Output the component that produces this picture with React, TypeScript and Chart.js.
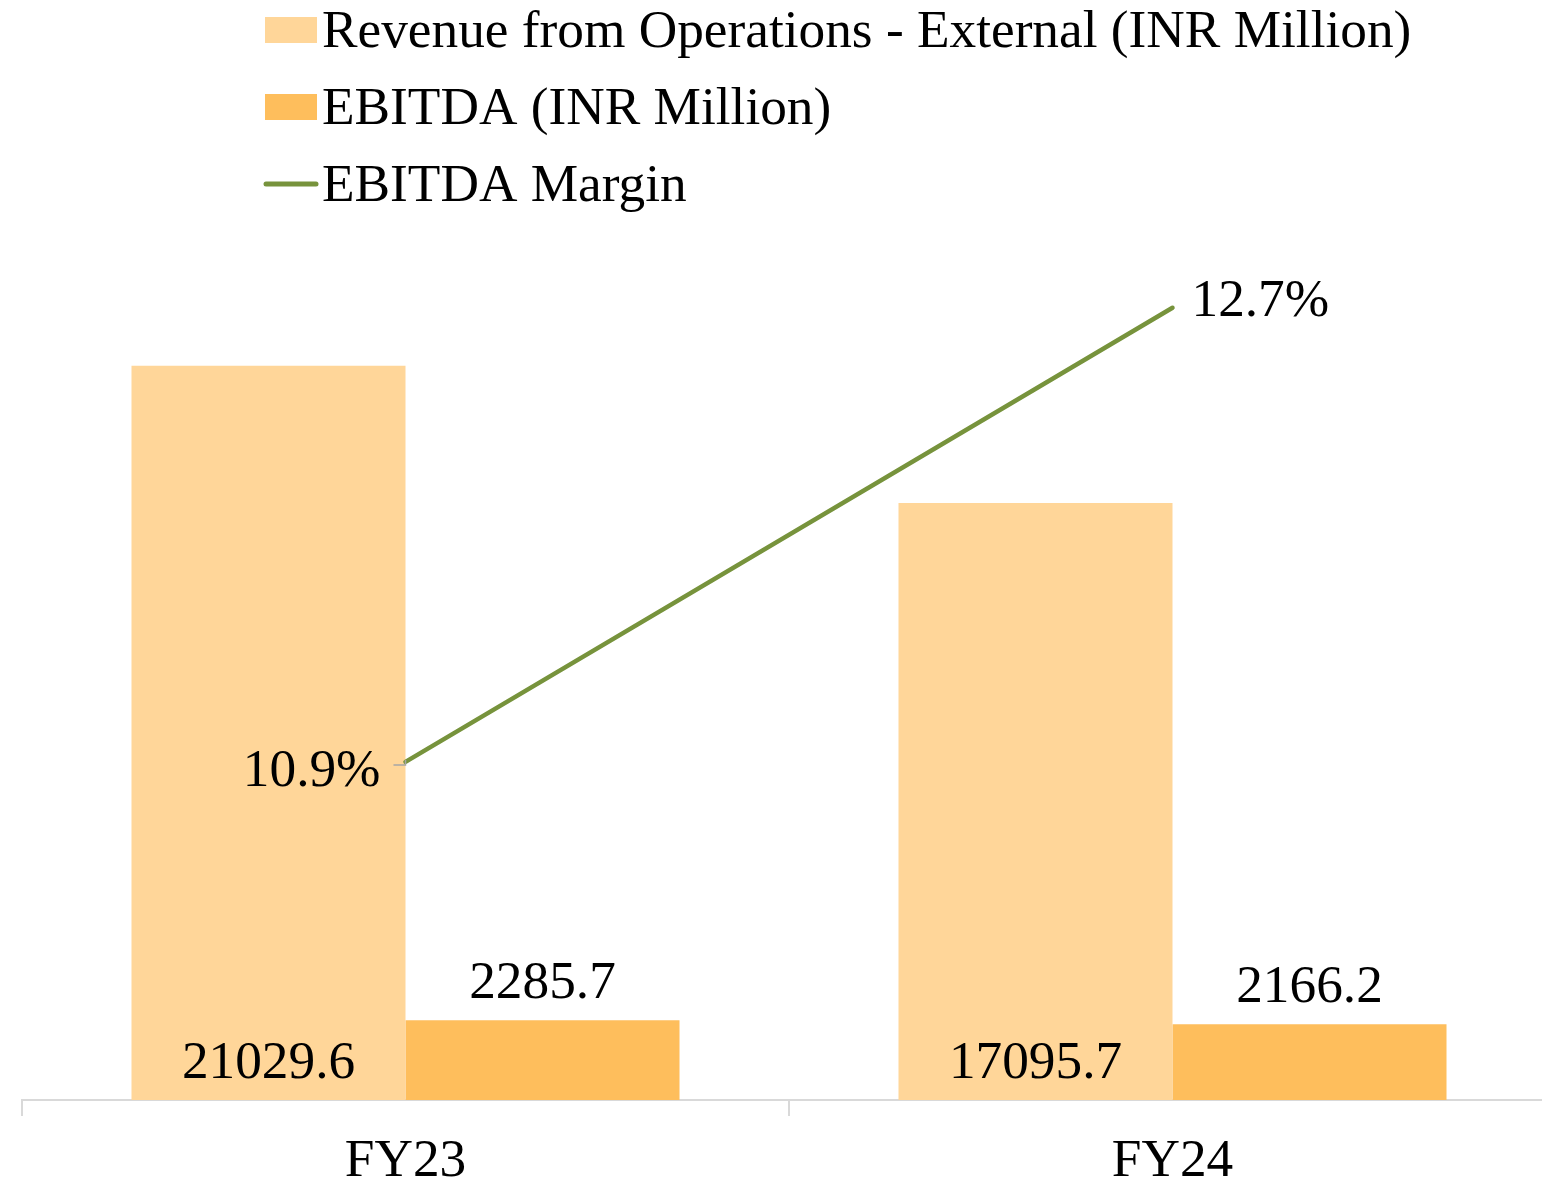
import React, { useEffect, useRef } from "react";
import { Chart, registerables } from "chart.js";

Chart.register(...registerables);

// ---- data ----
const categories = ["FY23", "FY24"];
const revenue = [21029.6, 17095.7];
const ebitda = [2285.7, 2166.2];
const ebitdaMargin = [10.9, 12.7];
const seriesNames = [
  "Revenue from Operations - External (INR Million)",
  "EBITDA (INR Million)",
  "EBITDA Margin",
];

// ---- styles ----
const FONT = '"Liberation Serif", "Times New Roman", serif';
const FS = 53.3;
const C_REV = "#FFD699";
const C_EBITDA = "#FEBE5C";
const C_LINE = "#77933C";
const C_AXIS = "#D9D9D9";
const C_LEADER = "#A6A6A6";

const legendPlugin = {
  id: "customLegend",
  afterDraw(chart: any) {
    const ctx = chart.ctx;
    ctx.save();
    ctx.font = `${FS}px ${FONT}`;
    ctx.textAlign = "left";
    ctx.textBaseline = "alphabetic";
    const x0 = 265;
    const tx = 322;
    const baselines = [47, 124, 201];
    chart.data.datasets.forEach((ds: any, i: number) => {
      const b = baselines[i];
      const cy = b - 17;
      if (ds.type === "line") {
        ctx.strokeStyle = ds.borderColor;
        ctx.lineWidth = 5;
        ctx.lineCap = "round";
        ctx.beginPath();
        ctx.moveTo(x0 + 1, cy);
        ctx.lineTo(x0 + 51, cy);
        ctx.stroke();
      } else {
        ctx.fillStyle = ds.backgroundColor;
        ctx.fillRect(x0, cy - 13, 52, 26);
      }
      ctx.fillStyle = "#000";
      ctx.fillText(ds.label, tx, b);
    });
    ctx.restore();
  },
};

const dataLabelPlugin = {
  id: "dataLabels",
  afterDatasetsDraw(chart: any) {
    const ctx = chart.ctx;
    ctx.save();
    ctx.font = `${FS}px ${FONT}`;
    ctx.fillStyle = "#000";
    ctx.textBaseline = "alphabetic";
    chart.data.datasets.forEach((ds: any, di: number) => {
      const meta = chart.getDatasetMeta(di);
      meta.data.forEach((el: any, i: number) => {
        const v = ds.data[i];
        if (di === 0) {
          ctx.textAlign = "center";
          ctx.fillText(v.toFixed(1), el.x, el.base - 22);
        } else if (di === 1) {
          ctx.textAlign = "center";
          ctx.fillText(v.toFixed(1), el.x, el.y - 22);
        } else {
          const txt = v.toFixed(1) + "%";
          if (i === 0) {
            ctx.strokeStyle = C_LEADER;
            ctx.lineWidth = 1.5;
            ctx.beginPath();
            ctx.moveTo(el.x, el.y - 2);
            ctx.lineTo(el.x, el.y + 3);
            ctx.lineTo(el.x - 12, el.y + 3);
            ctx.stroke();
            ctx.textAlign = "right";
            ctx.fillText(txt, el.x - 25, el.y + 24);
          } else {
            ctx.textAlign = "left";
            ctx.fillText(txt, el.x + 19, el.y + 8);
          }
        }
      });
    });
    ctx.restore();
  },
};

export default function App() {
  const ref = useRef<HTMLCanvasElement | null>(null);

  useEffect(() => {
    document.body.style.margin = "0";
    const canvas = ref.current;
    if (!canvas) return;
    const chart = new Chart(canvas, {
      type: "bar",
      data: {
        labels: categories,
        datasets: [
          {
            type: "bar",
            label: seriesNames[0],
            data: revenue,
            backgroundColor: C_REV,
            borderWidth: 0,
            yAxisID: "y",
            categoryPercentage: 0.7145,
            barPercentage: 1,
            order: 1,
          },
          {
            type: "bar",
            label: seriesNames[1],
            data: ebitda,
            backgroundColor: C_EBITDA,
            borderWidth: 0,
            yAxisID: "y",
            categoryPercentage: 0.7145,
            barPercentage: 1,
            order: 1,
          },
          {
            type: "line",
            label: seriesNames[2],
            data: ebitdaMargin,
            borderColor: C_LINE,
            backgroundColor: C_LINE,
            borderWidth: 4.5,
            borderCapStyle: "round",
            pointRadius: 0,
            tension: 0,
            yAxisID: "y1",
            order: 0,
          },
        ],
      } as any,
      options: {
        responsive: false,
        animation: false,
        devicePixelRatio: 1,
        layout: { padding: { left: 22, right: 4, top: 227, bottom: 0 } },
        plugins: {
          legend: { display: false },
          tooltip: { enabled: false },
          title: { display: false },
        },
        scales: {
          x: {
            type: "category",
            offset: true,
            grid: {
              offset: true,
              drawOnChartArea: false,
              drawTicks: true,
              tickLength: 16,
              color: C_AXIS,
              lineWidth: 2,
            },
            border: { display: true, color: C_AXIS, width: 2 },
            ticks: {
              color: "#000",
              font: { family: FONT, size: FS },
              padding: 14,
            },
            afterFit: (s: any) => {
              s.height = 88;
            },
          },
          y: { display: false, min: 0, max: 25000 },
          y1: { display: false, position: "right", min: 9.56, max: 13.02 },
        },
      } as any,
      plugins: [legendPlugin, dataLabelPlugin],
    });
    return () => chart.destroy();
  }, []);

  return (
    <div style={{ width: 1542, height: 1188, overflow: "hidden", position: "relative" }}>
      <canvas ref={ref} width={1560} height={1188} style={{ display: "block" }} />
    </div>
  );
}
